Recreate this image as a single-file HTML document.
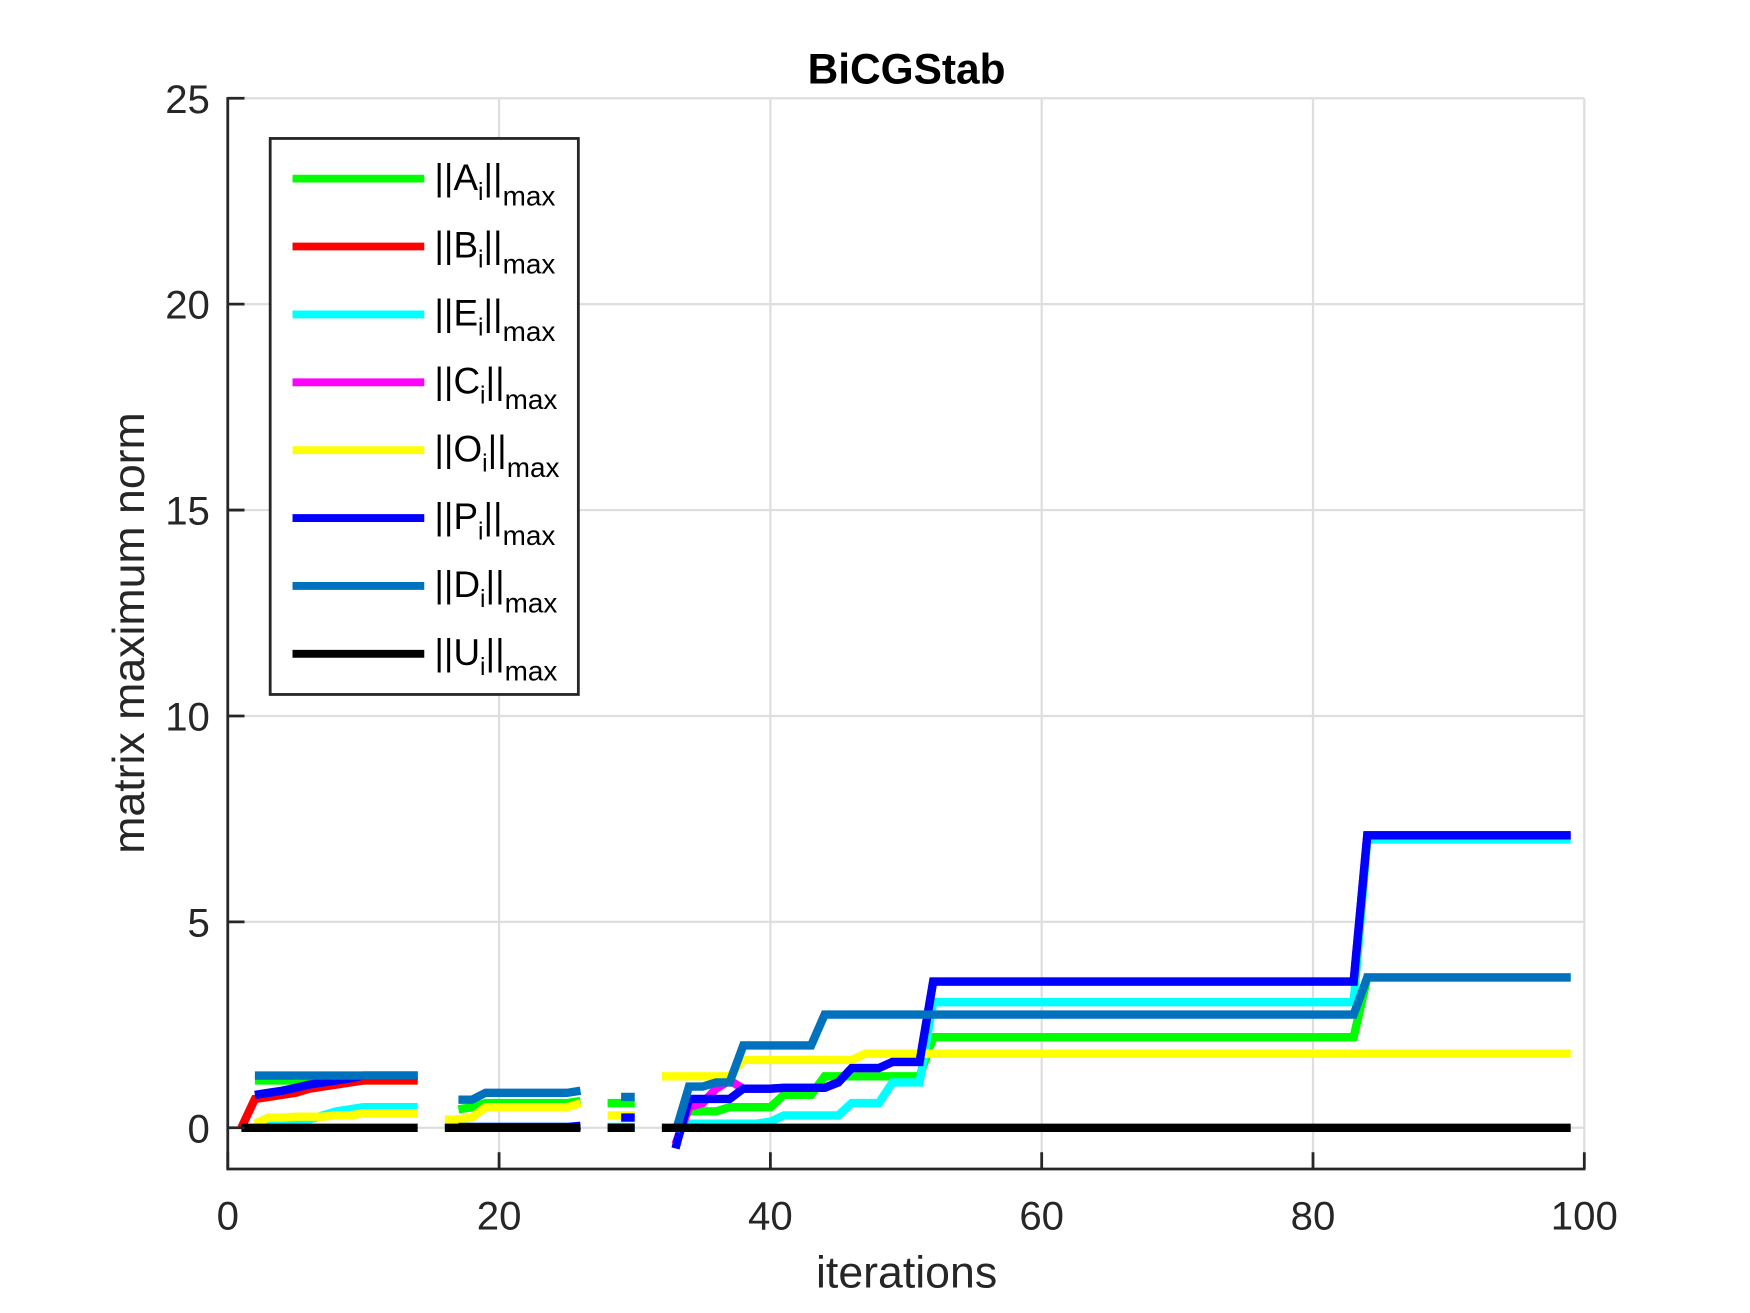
<!DOCTYPE html>
<html><head><meta charset="utf-8"><style>
html,body{margin:0;padding:0;background:#fff;}
svg{display:block;font-family:"Liberation Sans",Arial,sans-serif;}
</style></head><body>
<svg id="chart" width="1750" height="1313" viewBox="0 0 1567.4 1176" xmlns="http://www.w3.org/2000/svg">
<rect x="0" y="0" width="1567.4" height="1176" fill="#fff"/>
<g id="grid"></g>
<g id="series" clip-path="url(#clip)"></g>
<defs><clipPath id="clip"><rect x="204" y="88" width="1215" height="959"/></clipPath></defs>
<g id="axes"></g>
<text x="812" y="75" text-anchor="middle" font-size="38" font-weight="bold" fill="#000">BiCGStab</text>
<text x="812" y="1153" text-anchor="middle" font-size="40" fill="#262626">iterations</text>
<text transform="translate(129,567) rotate(-90)" text-anchor="middle" font-size="40" fill="#262626">matrix maximum norm</text>
<g id="legend"></g>
</svg>
<script>
const N = null;
const xTicks = [0, 20, 40, 60, 80, 100];
const yTicks = [0, 5, 10, 15, 20, 25];
const seriesNames = ["A","B","E","C","O","P","D","U"];
const seriesColors = ["#00ff00","#ff0000","#00ffff","#ff00ff","#ffff00","#0000ff","#0072bd","#000000"];
// values at iterations 1..99 (index 0 => x=1)
function expand(segs){
  const a = new Array(99).fill(N);
  segs.forEach(s=>{ for(let x=s[0]; x<=s[1]; x++) a[x-1]=s[2]; });
  return a;
}
const seriesA = expand([[2,14,1.15],[17,17,0.45],[18,18,0.5],[19,25,0.6],[26,26,0.65],[28,30,0.6],[33,33,0],[34,36,0.4],[37,40,0.5],[41,43,0.8],[44,51,1.25],[52,83,2.2],[84,99,3.65]]);
const seriesB = expand([[1,1,0],[2,2,0.7],[3,3,0.75],[4,4,0.8],[5,5,0.85],[6,6,0.95],[7,7,1.0],[8,8,1.05],[9,9,1.1],[10,14,1.15]]);
const seriesE = expand([[2,2,0],[3,3,0.05],[4,4,0.1],[5,5,0.15],[6,6,0.2],[7,7,0.3],[8,8,0.4],[9,9,0.45],[10,14,0.5],[16,26,0.02],[28,30,0.02],[33,33,0],[34,39,0.1],[40,40,0.15],[41,45,0.3],[46,48,0.6],[49,51,1.1],[52,83,3.05],[84,99,7.0]]);
const seriesC = expand([[33,33,-0.4],[34,34,0.5],[35,35,0.6],[36,36,0.95],[37,37,1.15],[38,40,0.95],[41,44,0.97],[45,45,1.1],[46,48,1.45],[49,51,1.6],[52,83,3.55],[84,99,7.1]]);
const seriesO = expand([[2,2,0.1],[3,4,0.25],[5,7,0.27],[8,9,0.3],[10,14,0.35],[16,17,0.2],[18,18,0.25],[19,25,0.5],[26,26,0.6],[28,30,0.3],[32,37,1.25],[38,46,1.65],[47,99,1.8]]);
const seriesP = expand([[2,2,0.8],[3,3,0.85],[4,4,0.9],[5,5,0.97],[6,6,1.05],[7,7,1.1],[8,8,1.15],[9,9,1.2],[10,14,1.27],[17,25,0.02],[26,26,0.05],[29,30,0.25],[33,33,-0.5],[34,37,0.7],[38,40,0.95],[41,44,0.97],[45,45,1.1],[46,48,1.45],[49,51,1.6],[52,83,3.55],[84,99,7.1]]);
const seriesD = expand([[2,14,1.27],[17,18,0.68],[19,25,0.85],[26,26,0.9],[29,30,0.75],[33,33,-0.1],[34,35,1.0],[36,37,1.1],[38,43,2.0],[44,83,2.75],[84,99,3.65]]);
const seriesU = expand([[1,14,0],[16,26,0],[28,30,0],[32,99,0]]);
const allSeries = [seriesA,seriesB,seriesE,seriesC,seriesO,seriesP,seriesD,seriesU];

const X0=204, X1=1419, Y0=1047, Y1=88, YMIN=-1, YMAX=25;
const sx = v => X0 + (v-0)/(100-0)*(X1-X0);
const sy = v => Y0 - (v-YMIN)/(YMAX-YMIN)*(Y0-Y1);
const NS="http://www.w3.org/2000/svg";
function mk(tag, attrs, parent){ const e=document.createElementNS(NS,tag); for(const k in attrs) e.setAttribute(k,attrs[k]); parent.appendChild(e); return e; }

const grid=document.getElementById('grid');
xTicks.forEach(t=>{ const l=mk('line',{x1:sx(t),x2:sx(t),y1:Y1,y2:Y0,stroke:'#dedede','stroke-width':2},grid);

 });
yTicks.forEach(t=>{ const l=mk('line',{x1:X0,x2:X1,y1:sy(t),y2:sy(t),stroke:'#dedede','stroke-width':2},grid);

 });

const sg=document.getElementById('series');
allSeries.forEach((vals,i)=>{
  let d='', pen=false;
  vals.forEach((v,k)=>{ if(v===null){pen=false;return;} d+=(pen?'L':'M')+sx(k+1).toFixed(1)+' '+sy(v).toFixed(1)+' '; pen=true; });
  const p=mk('path',{d:d,fill:'none',stroke:seriesColors[i],'stroke-width':7.5,'stroke-linejoin':'miter'},sg);
  
  
});

const ax=document.getElementById('axes');
const xa=mk('line',{x1:X0-1,x2:X1+1,y1:Y0,y2:Y0,stroke:'#262626','stroke-width':2.5},ax);


const ya=mk('line',{x1:X0,x2:X0,y1:Y1-1,y2:Y0+1,stroke:'#262626','stroke-width':2.5},ax);


xTicks.forEach(t=>{
  mk('line',{x1:sx(t),x2:sx(t),y1:Y0,y2:Y0-15,stroke:'#262626','stroke-width':2.5},ax);
  const tx=mk('text',{x:sx(t),y:1101,'text-anchor':'middle','font-size':36,fill:'#262626'},ax);
  tx.textContent=t;
  
  
});
yTicks.forEach(t=>{
  mk('line',{x1:X0,x2:X0+15,y1:sy(t),y2:sy(t),stroke:'#262626','stroke-width':2.5},ax);
  const tx=mk('text',{x:188,y:sy(t)+13,'text-anchor':'end','font-size':36,fill:'#262626'},ax);
  tx.textContent=t;
  
  
});

const lg=document.getElementById('legend');
mk('rect',{x:242,y:124,width:276,height:498,fill:'#fff',stroke:'#262626','stroke-width':2.5},lg);
seriesNames.forEach((n,i)=>{
  const y=160+i*60.8;
  const l=mk('line',{x1:262,x2:380,y1:y,y2:y,stroke:seriesColors[i],'stroke-width':7},lg);
  
  
  const t=mk('text',{x:389,y:y+10,'font-size':33,fill:'#000'},lg);
  t.innerHTML='||'+n+'<tspan font-size="22" dy="9">i</tspan><tspan dy="-9">||</tspan><tspan font-size="25" dy="14">max</tspan>';
  
  
});
</script>
</body></html>
